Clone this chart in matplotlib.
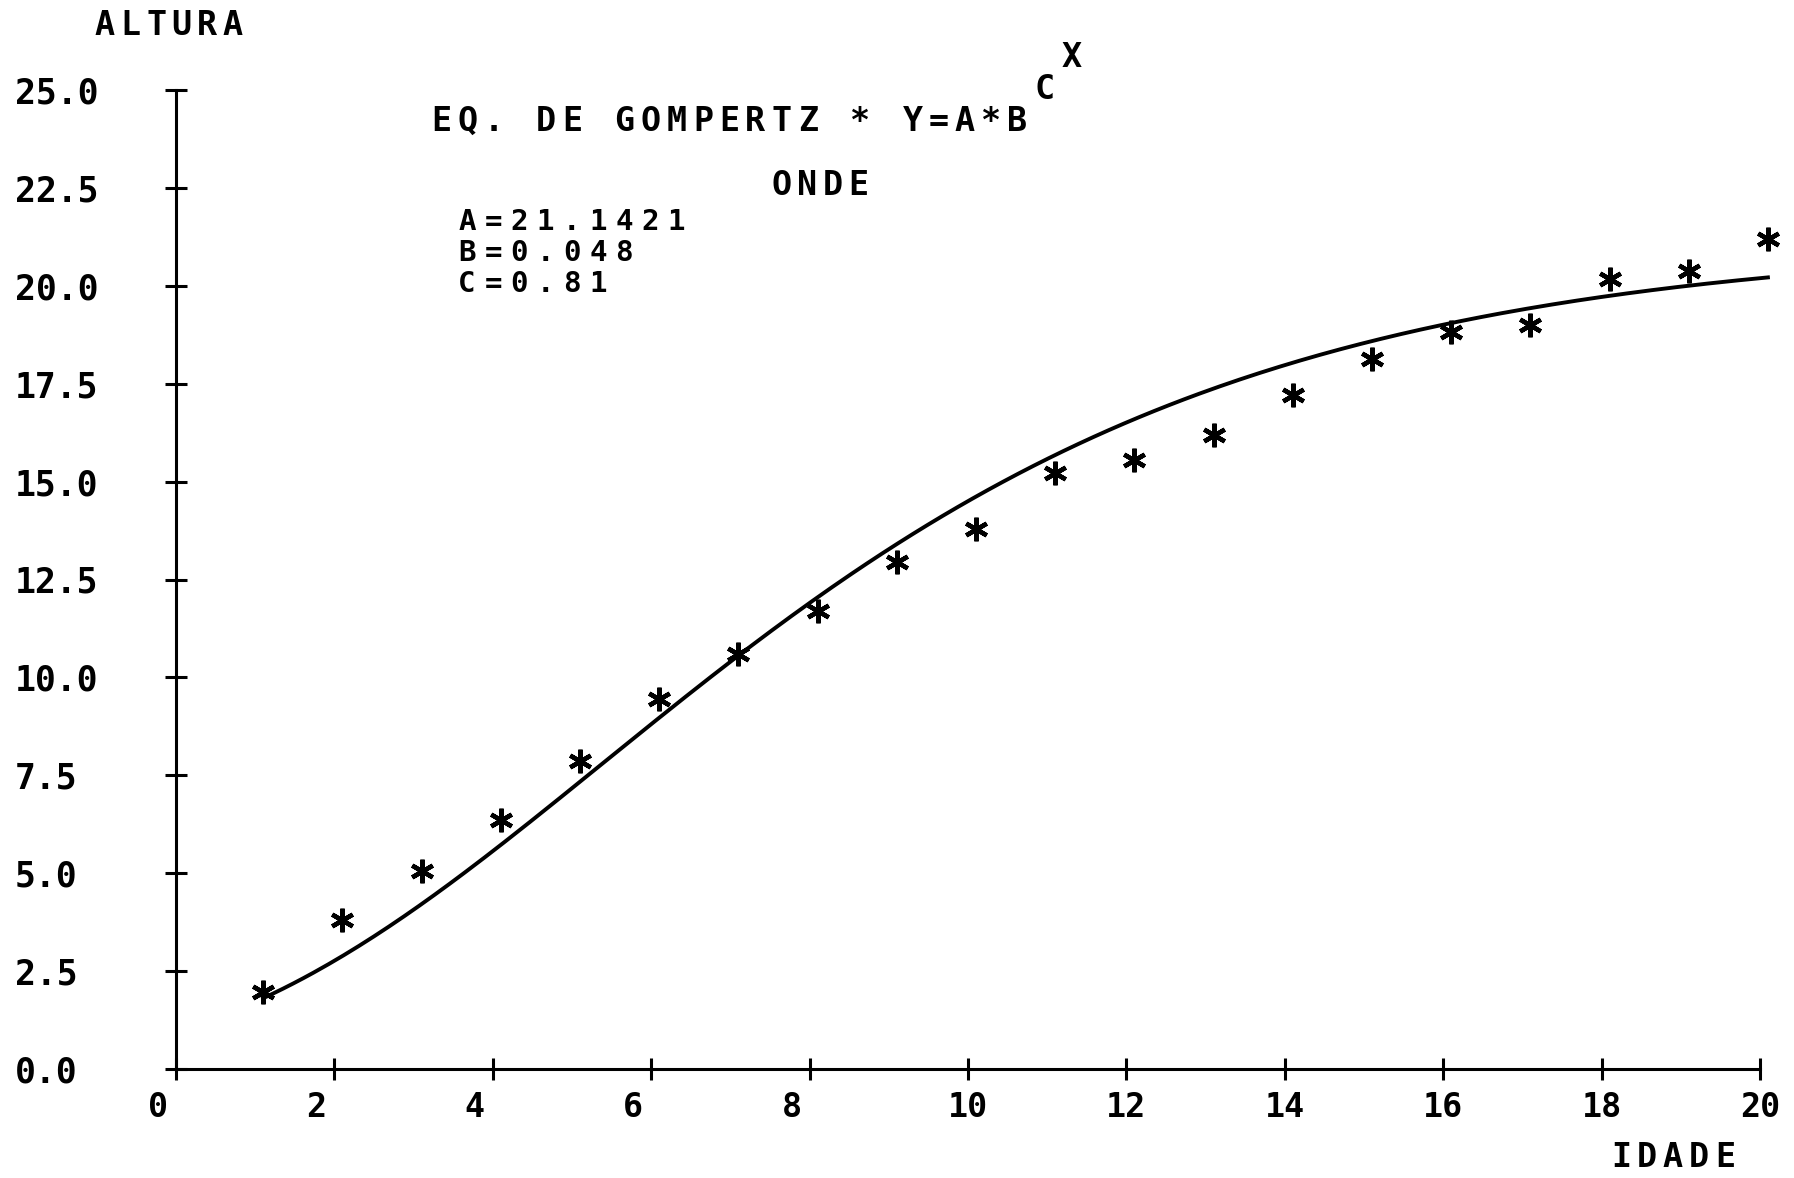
import numpy as np
import matplotlib
matplotlib.use("Agg")
import matplotlib.pyplot as plt
from matplotlib.transforms import ScaledTranslation

# dados observados: idade x altura
idade = [1, 2, 3, 4, 5, 6, 7, 8, 9, 10, 11, 12, 13, 14, 15, 16, 17, 18, 19, 20]
altura = [1.96, 3.80, 5.06, 6.35, 7.87, 9.44, 10.61, 11.70, 12.95, 13.80,
          15.23, 15.56, 16.20, 17.22, 18.13, 18.83, 19.00, 20.18, 20.38, 21.20]

# parametros ajustados da equacao de Gompertz
A = 21.1421
B = 0.048
C = 0.81

x_ticks = [0, 2, 4, 6, 8, 10, 12, 14, 16, 18, 20]
y_ticks = [0.0, 2.5, 5.0, 7.5, 10.0, 12.5, 15.0, 17.5, 20.0, 22.5, 25.0]

# deslocamento da pena do plotter no eixo x
desloc = 0.1

W, H = 1794, 1178
fig = plt.figure(figsize=(W / 100, H / 100), dpi=100)
ax = fig.add_axes([176 / W, 1 - 1069 / H, (1760 - 176) / W, (1069 - 90) / H])

fonte = dict(family="DejaVu Sans Mono", weight="bold", color="black")

# curva ajustada
t = np.linspace(idade[0], idade[-1], 300)
ax.plot(t + desloc, A * B ** (C ** t), color="black", lw=2.8, clip_on=False)

# pontos observados
ax.plot(np.array(idade) + desloc, altura, linestyle="none", marker=(6, 2, 0),
        ms=17, mew=3.2, color="black", clip_on=False)

ax.set_xlim(0, 20)
ax.set_ylim(0, 25)
for s in ["top", "right"]:
    ax.spines[s].set_visible(False)
for s in ["left", "bottom"]:
    ax.spines[s].set_linewidth(2.2)

ax.set_xticks(x_ticks)
ax.set_xticklabels([str(v) for v in x_ticks], fontsize=24, **fonte)
ax.set_yticks(y_ticks)
ax.set_yticklabels([f"{v:.1f}" for v in y_ticks], fontsize=25, **fonte)
ax.tick_params(axis="both", direction="inout", length=16, width=2.2)
ax.tick_params(axis="x", pad=8)
ax.tick_params(axis="y", pad=108)
for lab in ax.get_yticklabels():
    lab.set_horizontalalignment("left")
# numeros de um digito ficam meia casa a esquerda
for lab in ax.get_xticklabels():
    if len(lab.get_text()) == 1:
        lab.set_transform(lab.get_transform() +
                          ScaledTranslation(-0.18, 0, fig.dpi_scale_trans))


def texto(px, py, s, size=24, passo=26.2):
    # escreve caractere por caractere, em casas de largura fixa (px = centro da 1a casa)
    for i, ch in enumerate(s):
        if ch != " ":
            fig.text((px + passo * i) / W, 1 - py / H, ch, ha="center",
                     va="baseline", fontsize=size, **fonte)


texto(105, 35, "ALTURA", passo=25.6)
texto(1621, 1167, "IDADE", passo=26)
texto(441, 131, "EQ. DE GOMPERTZ * Y=A*B")
texto(1045, 99, "C")
texto(1072, 67, "X")
texto(782, 195, "ONDE", passo=25.5)
texto(467, 230, f"A={A}", size=21)
texto(467, 261, f"B={B}", size=21)
texto(467, 292, f"C={C}", size=21)

fig.savefig("out.png", dpi=100)
